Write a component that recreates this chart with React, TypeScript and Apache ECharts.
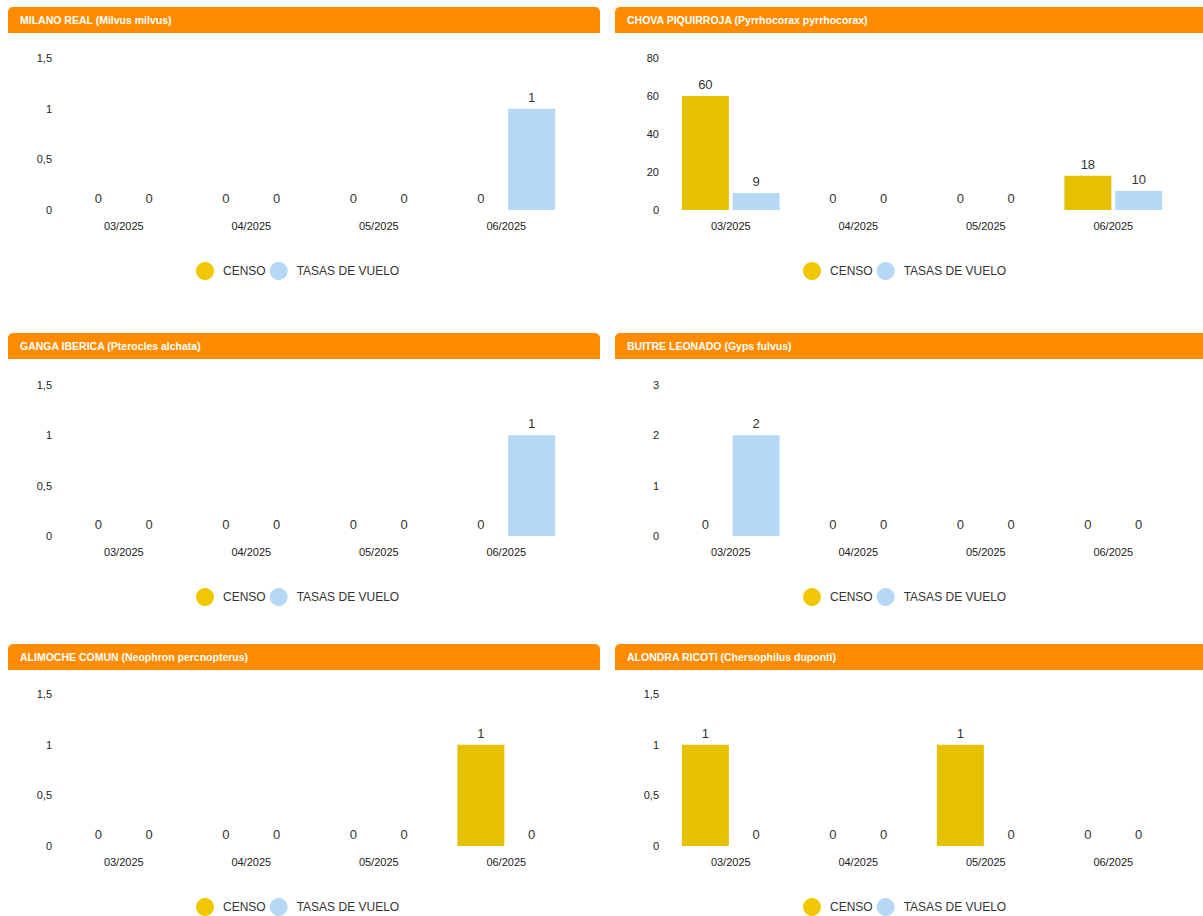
import React, { useEffect, useRef } from "react";
import * as echarts from "echarts";

const categories = ["03/2025", "04/2025", "05/2025", "06/2025"];
const seriesNames = ["CENSO", "TASAS DE VUELO"];

const titles = [
  "MILANO REAL (Milvus milvus)",
  "CHOVA PIQUIRROJA (Pyrrhocorax pyrrhocorax)",
  "GANGA IBERICA (Pterocles alchata)",
  "BUITRE LEONADO (Gyps fulvus)",
  "ALIMOCHE COMUN (Neophron percnopterus)",
  "ALONDRA RICOTI (Chersophilus duponti)",
];

const censo1 = [0, 0, 0, 0];
const tasas1 = [0, 0, 0, 1];
const censo2 = [60, 0, 0, 18];
const tasas2 = [9, 0, 0, 10];
const censo3 = [0, 0, 0, 0];
const tasas3 = [0, 0, 0, 1];
const censo4 = [0, 0, 0, 0];
const tasas4 = [2, 0, 0, 0];
const censo5 = [0, 0, 0, 1];
const tasas5 = [0, 0, 0, 0];
const censo6 = [1, 0, 1, 0];
const tasas6 = [0, 0, 0, 0];

const censoData = [censo1, censo2, censo3, censo4, censo5, censo6];
const tasasData = [tasas1, tasas2, tasas3, tasas4, tasas5, tasas6];

const yMax = [1.5, 80, 1.5, 3, 1.5, 1.5];
const yInterval = [0.5, 20, 0.5, 1, 0.5, 0.5];

const COLOR_CENSO = "#e6c100";
const COLOR_TASAS = "#b5d8f7";
const ORANGE = "#ff8c00";
const FONT = 'Arial, "Liberation Sans", sans-serif';

export default function App() {
  const ref = useRef<HTMLDivElement>(null);

  useEffect(() => {
    if (!ref.current) return;
    const chart = echarts.init(ref.current, undefined, { renderer: "svg" });

    const titleTop = [7, 333, 644];
    const plotTop = [58, 385, 694];
    const plotBottom = [210, 536, 846];
    const legendY = [271, 597, 907];
    const panelX = [8, 615];
    const panelW = [592, 600];

    const grid: any[] = [];
    const xAxis: any[] = [];
    const yAxis: any[] = [];
    const series: any[] = [];
    const legend: any[] = [];
    const graphic: any[] = [];

    for (let i = 0; i < 6; i++) {
      const row = Math.floor(i / 2);
      const col = i % 2;
      const px = panelX[col];
      grid.push({
        left: px + 52,
        width: 510,
        top: plotTop[row],
        height: plotBottom[row] - plotTop[row],
      });
      xAxis.push({
        type: "category",
        gridIndex: i,
        data: categories,
        axisLine: { show: false },
        axisTick: { show: false },
        axisLabel: { color: "#222", fontSize: 11, fontFamily: FONT, margin: 10 },
      });
      yAxis.push({
        type: "value",
        gridIndex: i,
        min: 0,
        max: yMax[i],
        interval: yInterval[i],
        axisLine: { show: false },
        axisTick: { show: false },
        splitLine: { show: false },
        axisLabel: {
          color: "#222",
          fontSize: 11,
          fontFamily: FONT,
          margin: 8,
          formatter: (v: number) => String(v).replace(".", ","),
        },
      });
      const label = {
        show: true,
        position: "top",
        distance: 5,
        color: "#333",
        fontSize: 13,
        fontFamily: FONT,
      };
      series.push({
        name: seriesNames[0],
        type: "bar",
        xAxisIndex: i,
        yAxisIndex: i,
        data: censoData[i],
        barWidth: 47,
        barGap: "8%",
        itemStyle: { color: COLOR_CENSO },
        label,
      });
      series.push({
        name: seriesNames[1],
        type: "bar",
        xAxisIndex: i,
        yAxisIndex: i,
        data: tasasData[i],
        barWidth: 47,
        barGap: "8%",
        itemStyle: { color: COLOR_TASAS },
        label,
      });
      legend.push({
        data: seriesNames.map((n, k) => ({
          name: n,
          itemStyle: { color: k === 0 ? "#f0c700" : COLOR_TASAS },
        })),
        left: px + 188,
        top: legendY[row] - 9,
        padding: 0,
        orient: "horizontal",
        icon: "circle",
        itemWidth: 26,
        itemHeight: 18,
        itemGap: 4,
        selectedMode: false,
        textStyle: { color: "#333", fontSize: 12, fontFamily: FONT },
      });
      graphic.push({
        type: "rect",
        shape: { x: px, y: titleTop[row], width: panelW[col], height: 26, r: [5, 5, 0, 0] },
        style: { fill: ORANGE },
        silent: true,
      });
      graphic.push({
        type: "text",
        x: px + 12,
        y: titleTop[row] + 13,
        style: {
          text: titles[i],
          fill: "#ffffff",
          font: `bold 10.5px ${FONT}`,
          textVerticalAlign: "middle",
          verticalAlign: "middle",
        },
        silent: true,
      });
    }

    chart.setOption({
      animation: false,
      backgroundColor: "#ffffff",
      grid,
      xAxis,
      yAxis,
      series,
      legend,
      graphic,
    });

    return () => chart.dispose();
  }, []);

  return (
    <div
      ref={ref}
      style={{ position: "fixed", left: 0, top: 0, width: 1203, height: 916, background: "#fff" }}
    />
  );
}
